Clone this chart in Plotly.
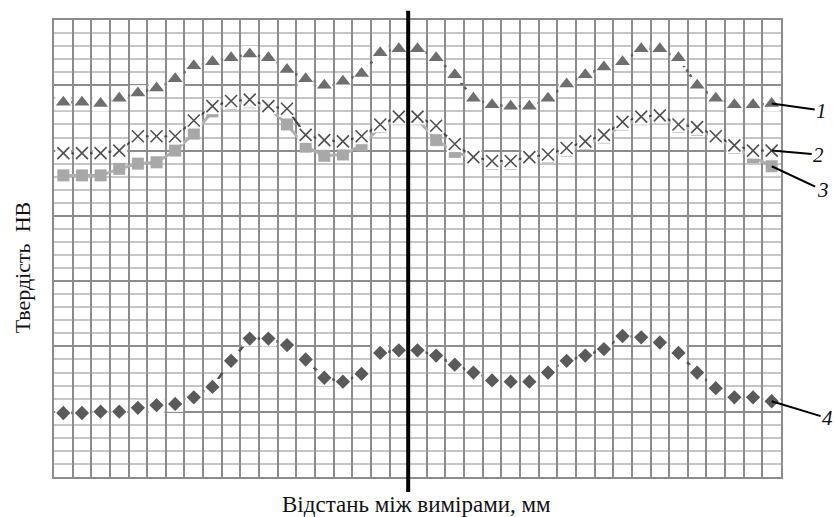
import plotly.graph_objects as go

# --- data (grid units; 39 measurement points) ---
positions = list(range(1, 40))

hardness_1 = [28.7, 28.7, 28.6, 29.0, 29.4, 29.8, 30.5, 31.5, 31.8, 32.1, 32.4, 32.1, 31.2,
              30.5, 30.0, 30.3, 30.9, 32.5, 32.8, 32.8, 32.1, 30.8, 29.0, 28.5, 28.4, 28.4,
              29.0, 30.1, 30.8, 31.4, 31.8, 32.8, 32.8, 32.1, 30.0, 29.0, 28.5, 28.5, 28.6]

hardness_2 = [24.8, 24.8, 24.8, 25.0, 26.1, 26.1, 26.1, 27.3, 28.4, 28.8, 28.9, 28.4, 28.2,
              26.2, 25.8, 25.7, 26.1, 27.0, 27.6, 27.6, 26.9, 25.5, 24.5, 24.2, 24.2, 24.5,
              24.7, 25.2, 25.7, 26.2, 27.2, 27.6, 27.7, 27.0, 26.8, 26.1, 25.4, 25.0, 25.0]

hardness_3 = [23.1, 23.1, 23.1, 23.6, 24.0, 24.1, 25.0, 26.3, 28.0, 28.6, 28.7, 28.3, 27.0,
              25.3, 24.6, 24.7, 25.4, 26.8, 27.4, 27.4, 25.8, 24.9, 24.4, 24.0, 24.0, 24.4,
              24.5, 25.0, 25.5, 26.0, 27.0, 27.4, 27.6, 26.8, 26.6, 26.0, 25.2, 24.5, 23.8]

hardness_4 = [4.9, 4.9, 5.0, 5.0, 5.3, 5.5, 5.6, 6.1, 6.9, 8.9, 10.6, 10.6, 10.1,
              9.0, 7.6, 7.3, 7.9, 9.5, 9.7, 9.7, 9.3, 8.6, 8.0, 7.4, 7.3, 7.3,
              8.0, 8.9, 9.3, 9.8, 10.8, 10.7, 10.3, 9.5, 8.0, 6.8, 6.1, 6.1, 5.8]

curve_labels = ["1", "2", "3", "4"]
y_title = "Твердість  НВ"
x_title = "Відстань між вимірами, мм"
section_position = 19.5

FONT = "Liberation Serif, Times New Roman, serif"

fig = go.Figure()


def add_series(y, line_color, line_dash, line_width, symbol, msize, mcolor,
               mline_color=None, mline_width=0, box=True):
    fig.add_trace(go.Scatter(x=positions, y=y, mode="lines",
                             line=dict(color=line_color, dash=line_dash, width=line_width),
                             hoverinfo="skip", showlegend=False))
    if box:
        fig.add_trace(go.Scatter(x=positions, y=y, mode="markers",
                                 marker=dict(symbol="square", size=16, color="white",
                                             line=dict(width=0)),
                                 hoverinfo="skip", showlegend=False))
    fig.add_trace(go.Scatter(x=positions, y=y, mode="markers",
                             marker=dict(symbol=symbol, size=msize, color=mcolor,
                                         line=dict(color=mline_color or mcolor,
                                                   width=mline_width)),
                             showlegend=False))


# series 3 (squares) first so that series 2 covers it
add_series(hardness_3, "#b0b0b0", "solid", 3, "square", 12, "#a8a8a8", box=False)
add_series(hardness_2, "#404040", "solid", 2, "x-thin", 12, "#505050",
           mline_color="#505050", mline_width=1.6)
add_series(hardness_1, "#606060", "dot", 2.5, "triangle-up", 13, "#6e6e6e")
add_series(hardness_4, "#505050", "dash", 2.5, "diamond", 11, "#5a5a5a")

fig.update_xaxes(range=[0.5, 39.5], tick0=0.5, dtick=1, showgrid=True,
                 gridcolor="#8c8c8c", gridwidth=2, showticklabels=False, ticks="",
                 zeroline=False, showline=True, linecolor="#8c8c8c", linewidth=2,
                 mirror=True)
fig.update_yaxes(range=[0, 35], tick0=0, dtick=5, showgrid=True,
                 gridcolor="#8c8c8c", gridwidth=2, showticklabels=False, ticks="",
                 minor=dict(dtick=1, showgrid=True, gridcolor="#c6c6c6", gridwidth=2),
                 zeroline=False, showline=True, linecolor="#8c8c8c", linewidth=2,
                 mirror=True)

# thick black section line
fig.add_shape(type="line", xref="x", yref="paper", x0=section_position,
              x1=section_position, y0=-0.033, y1=1.02,
              line=dict(color="black", width=4))

annotations = [
    dict(text=y_title, xref="paper", yref="paper", x=-0.044, y=0.457,
         textangle=-90, showarrow=False, xanchor="center", yanchor="middle",
         font=dict(family=FONT, size=22, color="#111")),
    dict(text=x_title, xref="paper", yref="paper", x=0.4986, y=-0.06,
         showarrow=False, xanchor="center", yanchor="middle",
         font=dict(family=FONT, size=23, color="#111")),
]

label_specs = [(hardness_1, 50, 7), (hardness_2, 47, 4), (hardness_3, 51, 24),
               (hardness_4, 56, 17)]
for lab, (ser, ax, ay) in zip(curve_labels, label_specs):
    annotations.append(dict(text="<i>" + lab + "</i>", x=positions[-1], y=ser[-1],
                            xref="x", yref="y", ax=ax, ay=ay, showarrow=True,
                            arrowhead=0, arrowwidth=2, arrowcolor="black",
                            standoff=0,
                            font=dict(family=FONT, size=21, color="#111")))

fig.update_layout(width=835, height=517,
                  margin=dict(l=54, r=54, t=20, b=40),
                  paper_bgcolor="white", plot_bgcolor="white",
                  showlegend=False, annotations=annotations)

fig.write_html("out.html", config={"displayModeBar": False},
               post_script="document.body.style.margin='0';"
                           "document.body.style.overflow='hidden';")
